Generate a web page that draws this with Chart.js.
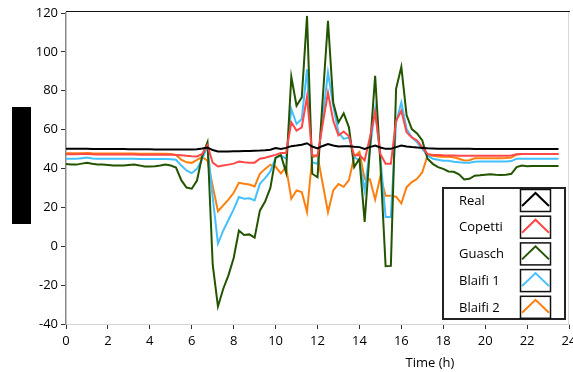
<!DOCTYPE html>
<html><head><meta charset="utf-8">
<script src="https://cdn.jsdelivr.net/npm/chart.js@4/dist/chart.umd.min.js"></script>
<style>
html,body{margin:0;padding:0;overflow:hidden;background:#fff;width:573px;height:372px}
#wrap{position:absolute;left:0;top:0;width:590px;height:372px}
</style>
</head><body><div id="wrap"><canvas id="c" width="590" height="372"></canvas></div>
<script>
// Time in hours (15-minute samples)
const times = [
 0,0.25,0.5,0.75, 1,1.25,1.5,1.75, 2,2.25,2.5,2.75, 3,3.25,3.5,3.75,
 4,4.25,4.5,4.75, 5,5.25,5.5,5.75, 6,6.25,6.5,6.75, 7,7.25,7.5,7.75,
 8,8.25,8.5,8.75, 9,9.25,9.5,9.75, 10,10.25,10.5,10.75, 11,11.25,11.5,11.75,
 12,12.25,12.5,12.75, 13,13.25,13.5,13.75, 14,14.25,14.5,14.75, 15,15.25,15.5,15.75,
 16,16.25,16.5,16.75, 17,17.25,17.5,17.75, 18,18.25,18.5,18.75, 19,19.25,19.5,19.75,
 20,20.25,20.5,20.75, 21,21.25,21.5,21.75, 22,22.25,22.5,22.75, 23,23.25,23.5
];
const seriesNames = ['Real','Copetti','Guasch','Blaifi 1','Blaifi 2'];
const real = [
 50.1,50.1,50.1,50.1, 50.1,50.0,50.0,50.0, 50.0,50.0,50.0,50.0, 49.9,49.9,49.9,49.9,
 49.9,49.8,49.8,49.8, 49.8,49.8,49.8,49.8, 49.8,49.9,50.3,50.8, 49.5,48.8,48.8,48.8,
 48.9,48.9,49.0,49.0, 49.1,49.2,49.4,49.7, 50.5,50.0,50.6,51.5, 51.8,52.2,53.0,51.3,
 50.3,51.6,52.6,51.8, 51.3,51.5,51.5,51.2, 51.0,50.1,51.0,51.8, 50.8,50.1,50.1,51.0,
 51.8,51.3,51.0,50.8, 50.6,50.4,50.3,50.2, 50.1,50.1,50.1,50.1, 50.1,50.1,50.0,50.0,
 50.0,50.0,50.0,50.0, 50.0,50.0,50.0,50.0, 50.0,50.0,50.0,50.0, 50.0,50.0,50.0
];
const copetti = [
 47.3,47.3,47.3,47.4, 47.5,47.3,47.2,47.2, 47.2,47.2,47.2,47.2, 47.2,47.2,47.1,47.1,
 47.1,47.1,47.1,47.1, 47.1,47.0,46.8,46.5, 46.3,46.2,47.5,52.0, 43.0,41.0,41.5,42.0,
 42.5,43.6,43.2,43.0, 43.0,45.0,45.5,46.3, 47.0,48.0,48.0,63.8, 59.5,61.2,77.0,46.7,
 46.7,63.0,79.0,64.6, 57.0,59.0,56.6,46.7, 47.0,44.1,56.0,69.0, 47.5,42.4,42.4,64.6,
 69.7,58.6,56.0,54.4, 50.9,47.5,47.0,47.0, 46.8,46.7,46.7,46.6, 46.5,46.5,46.5,46.5,
 46.5,46.5,46.5,46.5, 46.5,46.7,47.3,47.5, 47.5,47.5,47.5,47.5, 47.5,47.5,47.5
];
const guasch = [
 42.3,42.0,42.0,42.5, 43.0,42.4,42.0,42.0, 41.8,41.6,41.5,41.5, 41.8,42.0,41.6,41.0,
 41.0,41.2,41.5,42.0, 41.5,40.5,34.0,30.2, 29.6,33.8,46.5,53.5, -9.5,-31.0,-22.0,-15.0,
 -6.0,8.0,5.8,6.1, 4.4,18.3,23.0,30.0, 45.5,47.0,38.0,87.2, 72.3,76.6,118.5,37.3,
 35.5,76.0,116.0,74.0, 63.7,68.4,61.2,40.7, 45.0,12.5,50.0,87.7, 42.4,-10.3,-10.1,81.0,
 92.3,67.5,60.3,58.0, 54.4,45.0,42.4,40.7, 39.8,38.5,38.3,37.0, 34.4,34.7,36.3,36.5,
 36.8,37.0,36.8,36.7, 36.8,37.3,40.7,41.5, 41.2,41.3,41.3,41.3, 41.3,41.3,41.3
];
const blaifi1 = [
 45.0,45.0,45.0,45.3, 45.6,45.2,45.0,45.0, 45.0,45.0,45.0,45.0, 45.0,45.0,44.9,44.9,
 44.9,44.9,44.9,44.9, 44.7,44.5,41.5,39.0, 37.6,39.8,45.0,51.5, 25.0,1.4,8.0,13.5,
 19.0,25.3,24.4,24.7, 23.6,32.1,35.0,38.5, 45.5,46.7,45.0,70.6, 62.9,65.5,91.0,43.2,
 42.4,66.0,89.4,72.3, 58.6,55.2,56.0,45.8, 44.1,28.7,50.0,70.6, 45.8,15.0,15.0,63.7,
 74.0,60.3,56.0,53.5, 50.1,46.7,45.0,44.5, 44.0,44.0,43.5,43.2, 42.9,43.0,43.5,43.6,
 43.6,43.6,43.6,43.6, 43.6,43.8,45.0,45.0, 45.0,45.0,45.0,45.0, 45.0,45.0,45.0
];
const blaifi2 = [
 47.8,47.8,47.8,47.9, 48.0,47.8,47.7,47.7, 47.7,47.7,47.7,47.7, 47.7,47.7,47.6,47.6,
 47.6,47.6,47.6,47.6, 47.5,47.0,44.5,43.2, 42.9,44.4,46.0,44.0, 31.0,18.0,21.0,24.0,
 27.5,32.6,32.1,31.8, 30.8,37.3,39.8,41.9, 41.0,37.5,40.7,24.4, 28.7,27.9,17.6,45.8,
 46.7,32.0,17.5,28.7, 32.0,30.6,34.0,46.0, 48.5,34.5,34.5,24.0, 36.0,26.0,26.0,25.5,
 22.0,30.4,33.0,34.7, 38.1,46.7,46.5,46.2, 46.0,46.0,45.8,45.0, 44.1,44.3,45.3,45.3,
 45.3,45.3,45.3,45.3, 45.4,45.6,47.2,47.5, 47.5,47.5,47.5,47.5, 47.5,47.5,47.5
];
const xTickValues = [0,2,4,6,8,10,12,14,16,18,20,22,24];
const yTickValues = [-40,-20,0,20,40,60,80,100,120];
const xTitle = 'Time (h)';
const colors = ['#000000','#FF4848','#235400','#45C0FF','#FF7F0E'];

const allSeries = [real, copetti, guasch, blaifi1, blaifi2];
const FONT = '"Open Sans", "DejaVu Sans", sans-serif';

const datasets = allSeries.map((s, k) => ({
  label: seriesNames[k],
  data: times.map((t, i) => ({x: t, y: s[i]})),
  borderColor: colors[k],
  backgroundColor: colors[k],
  borderWidth: 2,
  pointRadius: 0,
  tension: 0,
  fill: false
}));

const extras = {
  id: 'extras',
  beforeDatasetsDraw(chart) {
    const {ctx, chartArea: a} = chart;
    ctx.save();
    // light right border
    ctx.strokeStyle = '#d8d8d8'; ctx.lineWidth = 1;
    ctx.beginPath(); ctx.moveTo(a.right - 0.5, a.top - 2); ctx.lineTo(a.right - 0.5, a.bottom + 1); ctx.stroke();
    // top border
    ctx.strokeStyle = '#111'; ctx.lineWidth = 1;
    ctx.beginPath(); ctx.moveTo(a.left, a.top - 1.5); ctx.lineTo(a.right + 1, a.top - 1.5); ctx.stroke();
    ctx.restore();
  },
  afterDraw(chart) {
    const {ctx} = chart;
    ctx.save();
    // redacted axis title block
    ctx.fillStyle = '#000';
    ctx.fillRect(12, 107, 19, 117);
    // x title
    ctx.fillStyle = '#000';
    ctx.font = '13px ' + FONT;
    ctx.textAlign = 'center'; ctx.textBaseline = 'middle';
    ctx.fillText(xTitle, 430, 363);
    // legend box
    const bx = 443, by = 188, bw = 122, bh = 131;
    ctx.fillStyle = '#fff';
    ctx.fillRect(bx, by, bw, bh);
    ctx.strokeStyle = '#222'; ctx.lineWidth = 2;
    ctx.strokeRect(bx, by, bw, bh);
    const ds = chart.data.datasets;
    for (let i = 0; i < ds.length; i++) {
      const top = 189.5 + i * 26.7;
      ctx.fillStyle = '#000';
      ctx.textAlign = 'left'; ctx.textBaseline = 'middle';
      ctx.font = '13px ' + FONT;
      ctx.fillText(ds[i].label, 459, top + 11.5);
      // swatch box
      ctx.strokeStyle = '#111'; ctx.lineWidth = 1.5;
      ctx.strokeRect(520.5, top, 30, 22);
      ctx.strokeStyle = ds[i].borderColor; ctx.lineWidth = 2;
      ctx.beginPath();
      ctx.moveTo(522, top + 16.5);
      ctx.lineTo(535.5, top + 3.5);
      ctx.lineTo(549, top + 16.5);
      ctx.stroke();
    }
    ctx.restore();
  }
};

new Chart(document.getElementById('c'), {
  type: 'line',
  data: { datasets },
  options: {
    responsive: false,
    animation: false,
    devicePixelRatio: 1,
    layout: { padding: { top: 13, right: 21, bottom: 0, left: 0 } },
    plugins: { legend: { display: false }, tooltip: { enabled: false }, title: { display: false } },
    scales: {
      x: {
        type: 'linear', min: 0, max: 24,
        afterBuildTicks(s) { s.ticks = xTickValues.map(v => ({value: v})); },
        afterFit(s) { s.height = 48; s.paddingLeft = 0; s.paddingRight = 0; },
        ticks: { color: '#000', font: { family: FONT, size: 13 }, padding: 4, maxRotation: 0, autoSkip: false },
        grid: { display: true, drawOnChartArea: false, drawTicks: true, tickLength: 5, color: '#333', lineWidth: 1 },
        border: { display: true, color: '#d4d4d4', width: 1 }
      },
      y: {
        type: 'linear', min: -40, max: 120,
        afterBuildTicks(s) { s.ticks = yTickValues.map(v => ({value: v})); },
        afterFit(s) { s.width = 66; s.paddingTop = 0; s.paddingBottom = 0; },
        ticks: { color: '#000', font: { family: FONT, size: 13 }, padding: 3 },
        grid: { display: true, drawOnChartArea: false, drawTicks: true, tickLength: 5, color: '#333', lineWidth: 1 },
        border: { display: true, color: '#888', width: 1.5 }
      }
    }
  },
  plugins: [extras]
});
</script>
</body></html>
